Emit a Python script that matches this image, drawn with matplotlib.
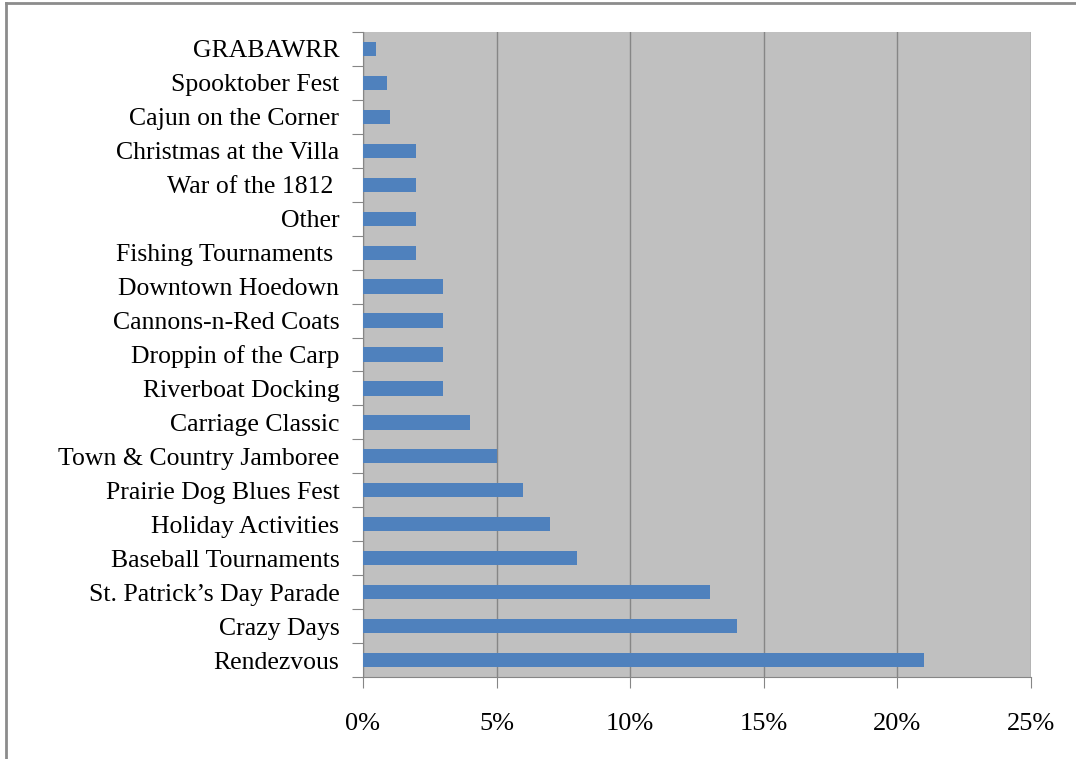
import matplotlib.pyplot as plt
from matplotlib.lines import Line2D
from matplotlib.ticker import FuncFormatter, MultipleLocator

events = [
    "Rendezvous", "Crazy Days", "St. Patrick\u2019s Day Parade",
    "Baseball Tournaments", "Holiday Activities", "Prairie Dog Blues Fest",
    "Town & Country Jamboree", "Carriage Classic", "Riverboat Docking",
    "Droppin of the Carp", "Cannons-n-Red Coats", "Downtown Hoedown",
    "Fishing Tournaments ", "Other", "War of the 1812 ",
    "Christmas at the Villa", "Cajun on the Corner", "Spooktober Fest",
    "GRABAWRR",
]
share_pct = [21, 14, 13, 8, 7, 6, 5, 4, 3, 3, 3, 3, 2, 2, 2, 2, 1.0, 0.9, 0.5]

plt.rcParams['font.family'] = ['Liberation Serif', 'DejaVu Serif']

fig = plt.figure(figsize=(10.76, 7.59), dpi=100)
ax = fig.add_axes([363 / 1076, 1 - 677 / 759, (1031 - 363) / 1076, (677 - 32) / 759])

pos = list(range(len(events)))
ax.barh(pos, share_pct, height=0.42, color="#4F81BD", zorder=3)

ax.set_xlim(0, 25)
ax.set_ylim(-0.5, len(events) - 0.5)
ax.set_facecolor("#C0C0C0")
ax.xaxis.set_major_locator(MultipleLocator(5))
ax.xaxis.set_major_formatter(FuncFormatter(lambda v, _: f"{v:.0f}%"))
ax.grid(axis="x", color="#868686", linewidth=1, zorder=1)

# category labels between boundary ticks, Excel style
ax.set_yticks([p + 0.5 for p in pos[:-1]] + [-0.5, len(events) - 0.5])
ax.set_yticklabels([])
ax.set_yticks(pos, minor=True)
ax.set_yticklabels(events, minor=True, fontsize=18.5)
ax.tick_params(axis="y", which="minor", length=0, pad=17)
ax.tick_params(axis="y", which="major", length=8, color="#868686")
ax.tick_params(axis="x", length=8, color="#868686", labelsize=19, pad=18)

for side in ("top", "right"):
    ax.spines[side].set_visible(False)
for side in ("left", "bottom"):
    ax.spines[side].set_color("#868686")

# outer chart border (top and left only visible)
fig.add_artist(Line2D([6 / 1076, 6 / 1076], [0, 1 - 3 / 759], color="#8c8c8c", linewidth=2))
fig.add_artist(Line2D([6 / 1076, 1], [1 - 3 / 759, 1 - 3 / 759], color="#8c8c8c", linewidth=2))

fig.savefig("out.png", dpi=100)
